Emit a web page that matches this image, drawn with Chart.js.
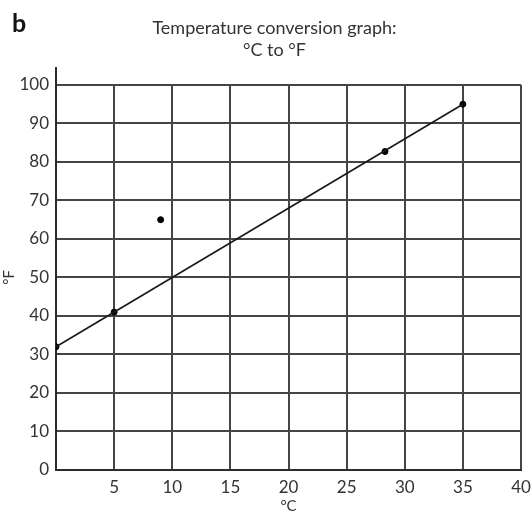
<!DOCTYPE html>
<html>
<head>
<meta charset="utf-8">
<script src="https://cdn.jsdelivr.net/npm/chart.js@4/dist/chart.umd.min.js"></script>
<style>
  html, body { margin: 0; padding: 0; background: #fff; }
  #wrap { width: 531px; height: 518px; }
</style>
</head>
<body>
<div id="wrap"><canvas id="chart" width="531" height="518"></canvas></div>
<script>
// values
const lineC = [0, 35];
const lineF = [32, 95];
const pointC = [0, 5, 9, 28.3, 35];
const pointF = [32, 41, 65, 82.7, 95];
const titleLines = ['Temperature conversion graph:', '°C to °F'];

const ink = '#2b2b2b';
const gridInk = '#454545';
const font = 'Lato, "Open Sans", sans-serif';

// the "b" panel letter, the axis stub above 100, and nudge the title a bit right
const extras = {
  id: 'extras',
  afterLayout(chart) {
    chart.titleBlock.left += 28;
  },
  afterDraw(chart) {
    const ctx = chart.ctx;
    const y = chart.scales.y;
    const x = chart.scales.x;
    ctx.save();
    ctx.fillStyle = '#111';
    ctx.font = 'bold 25px ' + font;
    ctx.textBaseline = 'alphabetic';
    ctx.fillText('b', 12, 32);
    ctx.strokeStyle = ink;
    ctx.lineWidth = 2;
    ctx.beginPath();
    ctx.moveTo(x.left, y.top);
    ctx.lineTo(x.left, y.top - 18);
    ctx.stroke();
    ctx.restore();
  }
};

new Chart(document.getElementById('chart'), {
  type: 'scatter',
  data: {
    datasets: [
      {
        type: 'line',
        data: lineC.map((c, i) => ({ x: c, y: lineF[i] })),
        borderColor: '#1a1a1a',
        borderWidth: 1.7,
        pointRadius: 0,
        tension: 0,
      },
      {
        data: pointC.map((c, i) => ({ x: c, y: pointF[i] })),
        backgroundColor: '#000',
        borderColor: '#000',
        pointRadius: 3,
      },
    ],
  },
  options: {
    responsive: false,
    animation: false,
    layout: { padding: { top: 0, right: 10, left: 0, bottom: 0 } },
    plugins: {
      legend: { display: false },
      tooltip: { enabled: false },
      title: {
        display: true,
        text: titleLines,
        color: '#333',
        font: { family: font, size: 18, weight: 'normal', lineHeight: 1.22 },
        padding: { top: 17, bottom: 24 },
      },
    },
    scales: {
      x: {
        type: 'linear',
        min: 0,
        max: 40,
        ticks: { stepSize: 5, color: '#333', padding: 7, font: { family: font, size: 17 },
          callback: v => v === 0 ? '' : v },
        grid: { color: gridInk, lineWidth: 2, drawTicks: false },
        border: { color: ink, width: 2 },
        title: { display: true, text: '°C', color: '#333', font: { family: font, size: 15 }, padding: { top: 0, bottom: 3 } },
        afterFit: s => { s.height = 48; s.paddingRight = 0; s.paddingLeft = 0; },
      },
      y: {
        type: 'linear',
        min: 0,
        max: 100,
        ticks: { stepSize: 10, color: '#333', padding: 7, font: { family: font, size: 17 } },
        grid: { color: gridInk, lineWidth: 2, drawTicks: false },
        border: { color: ink, width: 2 },
        title: { display: true, text: '°F', color: '#333', font: { family: font, size: 15 }, padding: { top: 0, bottom: 2 } },
        afterFit: s => { s.width = 56; },
      },
    },
  },
  plugins: [extras],
});
</script>
</body>
</html>
